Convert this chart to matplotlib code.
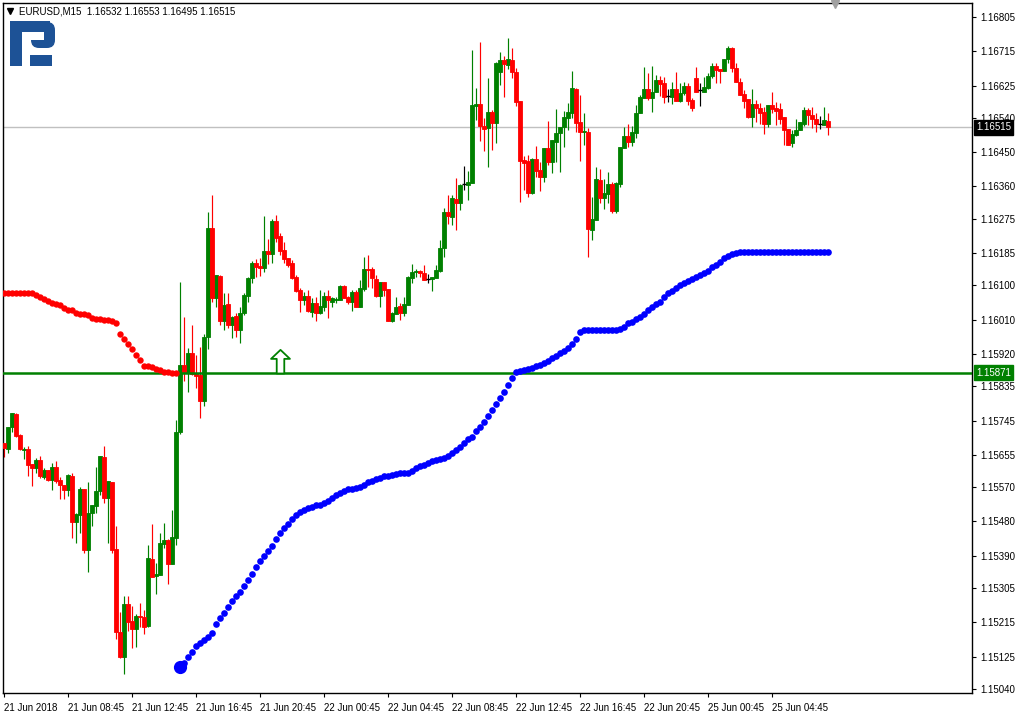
import matplotlib
matplotlib.use("Agg")
import matplotlib.pyplot as plt
import matplotlib.transforms as mtransforms
from matplotlib.path import Path
from matplotlib.patches import Rectangle, FancyBboxPatch

# ---------------- data ----------------
header_text = "EURUSD,M15  1.16532 1.16553 1.16495 1.16515"

opens = [1.15686, 1.15670, 1.15728, 1.15762, 1.15707, 1.15668, 1.15670, 1.15631, 1.15620, 1.15641,
         1.15597, 1.15615, 1.15589, 1.15623, 1.15589, 1.15576, 1.15563, 1.15599, 1.15479, 1.15497,
         1.15565, 1.15405, 1.15502, 1.15521, 1.15560, 1.15649, 1.15542, 1.15584, 1.15408, 1.15190,
         1.15124, 1.15263, 1.15219, 1.15198, 1.15232, 1.15229, 1.15205, 1.15381, 1.15337, 1.15339,
         1.15421, 1.15431, 1.15368, 1.15437, 1.15715, 1.15891, 1.15870, 1.15922, 1.15867, 1.15865,
         1.15796, 1.15965, 1.16251, 1.16067, 1.16125, 1.16007, 1.16051, 1.15996, 1.16020, 1.15983,
         1.16028, 1.16072, 1.16119, 1.16159, 1.16151, 1.16146, 1.16190, 1.16183, 1.16269, 1.16230,
         1.16193, 1.16172, 1.16159, 1.16122, 1.16088, 1.16062, 1.16072, 1.16030, 1.16054, 1.16028,
         1.16043, 1.16072, 1.16056, 1.16062, 1.16062, 1.16098, 1.16070, 1.16056, 1.16083, 1.16043,
         1.16091, 1.16143, 1.16143, 1.16117, 1.16072, 1.16109, 1.16091, 1.16007, 1.16025, 1.16046,
         1.16028, 1.16049, 1.16119, 1.16135, 1.16138, 1.16133, 1.16117, 1.16117, 1.16119, 1.16138,
         1.16198, 1.16293, 1.16280, 1.16327, 1.16316, 1.16366, 1.16364, 1.16369, 1.16571, 1.16576,
         1.16519, 1.16513, 1.16555, 1.16527, 1.16661, 1.16692, 1.16679, 1.16692, 1.16661, 1.16584,
         1.16429, 1.16427, 1.16343, 1.16432, 1.16403, 1.16385, 1.16461, 1.16424, 1.16477, 1.16500,
         1.16516, 1.16540, 1.16553, 1.16616, 1.16529, 1.16503, 1.16503, 1.16246, 1.16272, 1.16377,
         1.16330, 1.16340, 1.16366, 1.16295, 1.16366, 1.16461, 1.16492, 1.16477, 1.16500, 1.16553,
         1.16592, 1.16616, 1.16592, 1.16608, 1.16640, 1.16632, 1.16598, 1.16595, 1.16616, 1.16584,
         1.16605, 1.16624, 1.16587, 1.16645, 1.16613, 1.16608, 1.16619, 1.16650, 1.16676, 1.16668,
         1.16663, 1.16695, 1.16724, 1.16671, 1.16634, 1.16603, 1.16590, 1.16542, 1.16576, 1.16566,
         1.16555, 1.16524, 1.16574, 1.16566, 1.16563, 1.16542, 1.16511, 1.16474, 1.16495, 1.16508,
         1.16524, 1.16561, 1.16548, 1.16537, 1.16524, 1.16521, 1.16532]

highs = [1.15686, 1.15728, 1.15765, 1.15765, 1.15710, 1.15676, 1.15678, 1.15631, 1.15647, 1.15652,
         1.15620, 1.15615, 1.15634, 1.15639, 1.15597, 1.15576, 1.15605, 1.15607, 1.15502, 1.15571,
         1.15565, 1.15584, 1.15523, 1.15623, 1.15652, 1.15678, 1.15586, 1.15584, 1.15468, 1.15242,
         1.15284, 1.15284, 1.15258, 1.15237, 1.15266, 1.15247, 1.15418, 1.15473, 1.15371, 1.15450,
         1.15476, 1.15434, 1.15510, 1.15747, 1.16109, 1.16017, 1.15936, 1.15996, 1.15917, 1.15938,
         1.15972, 1.16293, 1.16337, 1.16127, 1.16127, 1.16080, 1.16080, 1.16020, 1.16028, 1.16043,
         1.16080, 1.16122, 1.16164, 1.16169, 1.16172, 1.16282, 1.16222, 1.16274, 1.16285, 1.16238,
         1.16214, 1.16172, 1.16167, 1.16127, 1.16093, 1.16083, 1.16088, 1.16067, 1.16070, 1.16088,
         1.16083, 1.16088, 1.16070, 1.16070, 1.16101, 1.16101, 1.16072, 1.16088, 1.16088, 1.16114,
         1.16175, 1.16180, 1.16148, 1.16127, 1.16109, 1.16109, 1.16091, 1.16030, 1.16070, 1.16054,
         1.16070, 1.16125, 1.16156, 1.16143, 1.16140, 1.16154, 1.16130, 1.16122, 1.16154, 1.16219,
         1.16303, 1.16337, 1.16337, 1.16382, 1.16366, 1.16414, 1.16401, 1.16718, 1.16619, 1.16739,
         1.16540, 1.16645, 1.16561, 1.16687, 1.16713, 1.16703, 1.16750, 1.16724, 1.16671, 1.16584,
         1.16440, 1.16443, 1.16435, 1.16466, 1.16424, 1.16461, 1.16532, 1.16482, 1.16563, 1.16516,
         1.16558, 1.16579, 1.16663, 1.16619, 1.16600, 1.16553, 1.16513, 1.16332, 1.16411, 1.16406,
         1.16380, 1.16398, 1.16372, 1.16372, 1.16464, 1.16516, 1.16524, 1.16519, 1.16574, 1.16600,
         1.16674, 1.16658, 1.16676, 1.16653, 1.16650, 1.16647, 1.16616, 1.16634, 1.16661, 1.16632,
         1.16634, 1.16632, 1.16592, 1.16674, 1.16632, 1.16647, 1.16658, 1.16684, 1.16684, 1.16668,
         1.16695, 1.16729, 1.16726, 1.16684, 1.16645, 1.16613, 1.16590, 1.16616, 1.16587, 1.16579,
         1.16569, 1.16574, 1.16608, 1.16582, 1.16579, 1.16542, 1.16511, 1.16508, 1.16537, 1.16529,
         1.16569, 1.16566, 1.16569, 1.16553, 1.16545, 1.16569, 1.16553]

lows = [1.15649, 1.15660, 1.15715, 1.15702, 1.15668, 1.15644, 1.15599, 1.15573, 1.15607, 1.15594,
        1.15592, 1.15586, 1.15563, 1.15581, 1.15539, 1.15539, 1.15547, 1.15437, 1.15423, 1.15450,
        1.15397, 1.15347, 1.15468, 1.15502, 1.15550, 1.15529, 1.15423, 1.15397, 1.15171, 1.15121,
        1.15079, 1.15192, 1.15148, 1.15150, 1.15203, 1.15184, 1.15203, 1.15334, 1.15290, 1.15339,
        1.15410, 1.15316, 1.15368, 1.15418, 1.15710, 1.15849, 1.15820, 1.15865, 1.15831, 1.15752,
        1.15783, 1.15933, 1.16056, 1.16043, 1.15996, 1.15983, 1.15988, 1.15962, 1.15965, 1.15949,
        1.16022, 1.16056, 1.16106, 1.16122, 1.16125, 1.16135, 1.16156, 1.16159, 1.16214, 1.16180,
        1.16159, 1.16148, 1.16117, 1.16083, 1.16030, 1.16049, 1.16030, 1.16017, 1.16007, 1.16025,
        1.16033, 1.16014, 1.16043, 1.16054, 1.16062, 1.16067, 1.16051, 1.16033, 1.16043, 1.16043,
        1.16085, 1.16096, 1.16093, 1.16070, 1.16043, 1.16072, 1.16007, 1.16004, 1.16025, 1.16009,
        1.16020, 1.16049, 1.16106, 1.16122, 1.16122, 1.16114, 1.16106, 1.16085, 1.16119, 1.16135,
        1.16175, 1.16261, 1.16259, 1.16246, 1.16298, 1.16351, 1.16324, 1.16369, 1.16534, 1.16479,
        1.16453, 1.16411, 1.16456, 1.16474, 1.16626, 1.16595, 1.16668, 1.16645, 1.16571, 1.16319,
        1.16351, 1.16332, 1.16340, 1.16385, 1.16348, 1.16372, 1.16416, 1.16395, 1.16424, 1.16398,
        1.16464, 1.16508, 1.16540, 1.16503, 1.16427, 1.16469, 1.16175, 1.16219, 1.16272, 1.16316,
        1.16301, 1.16316, 1.16290, 1.16290, 1.16358, 1.16461, 1.16464, 1.16466, 1.16487, 1.16553,
        1.16592, 1.16587, 1.16555, 1.16608, 1.16598, 1.16579, 1.16582, 1.16576, 1.16584, 1.16582,
        1.16600, 1.16574, 1.16558, 1.16608, 1.16571, 1.16608, 1.16616, 1.16645, 1.16632, 1.16632,
        1.16663, 1.16684, 1.16661, 1.16634, 1.16600, 1.16566, 1.16540, 1.16516, 1.16529, 1.16524,
        1.16498, 1.16516, 1.16553, 1.16521, 1.16524, 1.16469, 1.16469, 1.16464, 1.16492, 1.16508,
        1.16519, 1.16521, 1.16513, 1.16503, 1.16511, 1.16521, 1.16495]

closes = [1.15673, 1.15728, 1.15765, 1.15704, 1.15670, 1.15670, 1.15628, 1.15620, 1.15641, 1.15599,
          1.15615, 1.15589, 1.15623, 1.15586, 1.15576, 1.15563, 1.15602, 1.15479, 1.15500, 1.15565,
          1.15405, 1.15502, 1.15523, 1.15560, 1.15652, 1.15542, 1.15586, 1.15405, 1.15190, 1.15124,
          1.15263, 1.15216, 1.15198, 1.15232, 1.15229, 1.15203, 1.15384, 1.15334, 1.15342, 1.15423,
          1.15431, 1.15368, 1.15439, 1.15715, 1.15891, 1.15873, 1.15922, 1.15867, 1.15862, 1.15796,
          1.15965, 1.16251, 1.16067, 1.16127, 1.16007, 1.16049, 1.15996, 1.16017, 1.15983, 1.16028,
          1.16075, 1.16119, 1.16159, 1.16148, 1.16146, 1.16190, 1.16183, 1.16269, 1.16225, 1.16190,
          1.16169, 1.16154, 1.16119, 1.16085, 1.16062, 1.16072, 1.16033, 1.16054, 1.16028, 1.16046,
          1.16072, 1.16062, 1.16067, 1.16064, 1.16098, 1.16067, 1.16056, 1.16083, 1.16043, 1.16093,
          1.16143, 1.16140, 1.16119, 1.16072, 1.16109, 1.16088, 1.16007, 1.16028, 1.16043, 1.16028,
          1.16051, 1.16122, 1.16135, 1.16138, 1.16133, 1.16114, 1.16117, 1.16122, 1.16140, 1.16198,
          1.16293, 1.16282, 1.16330, 1.16316, 1.16364, 1.16366, 1.16372, 1.16574, 1.16576, 1.16519,
          1.16511, 1.16555, 1.16527, 1.16684, 1.16692, 1.16682, 1.16695, 1.16661, 1.16582, 1.16427,
          1.16422, 1.16343, 1.16432, 1.16401, 1.16385, 1.16461, 1.16424, 1.16482, 1.16500, 1.16516,
          1.16542, 1.16555, 1.16619, 1.16527, 1.16503, 1.16506, 1.16248, 1.16274, 1.16380, 1.16330,
          1.16343, 1.16366, 1.16295, 1.16369, 1.16464, 1.16492, 1.16477, 1.16503, 1.16553, 1.16595,
          1.16616, 1.16592, 1.16608, 1.16640, 1.16629, 1.16595, 1.16598, 1.16616, 1.16584, 1.16605,
          1.16624, 1.16584, 1.16566, 1.16608, 1.16613, 1.16621, 1.16650, 1.16676, 1.16666, 1.16663,
          1.16695, 1.16724, 1.16671, 1.16634, 1.16600, 1.16584, 1.16542, 1.16576, 1.16566, 1.16553,
          1.16524, 1.16574, 1.16563, 1.16558, 1.16537, 1.16508, 1.16469, 1.16498, 1.16508, 1.16529,
          1.16561, 1.16548, 1.16537, 1.16524, 1.16524, 1.16534, 1.16515]

# trailing-stop dots: red (above price) on the first bars, blue (below price) afterwards
stop_red = [1.16081, 1.16081, 1.16081, 1.16081, 1.16081, 1.16081, 1.16081, 1.16081, 1.16075, 1.16070,
            1.16064, 1.16059, 1.16054, 1.16051, 1.16049, 1.16040, 1.16035, 1.16035, 1.16028, 1.16025,
            1.16024, 1.16023, 1.16014, 1.16011, 1.16011, 1.16010, 1.16009, 1.16007, 1.16002, 1.15973,
            1.15960, 1.15947, 1.15934, 1.15918, 1.15904, 1.15889, 1.15888, 1.15886, 1.15880, 1.15877,
            1.15873, 1.15872, 1.15871, 1.15871]
stop_blue = [1.15099, 1.15109, 1.15125, 1.15138, 1.15153, 1.15160, 1.15169, 1.15176, 1.15188, 1.15211,
             1.15227, 1.15240, 1.15256, 1.15272, 1.15285, 1.15296, 1.15311, 1.15326, 1.15342, 1.15360,
             1.15376, 1.15390, 1.15403, 1.15416, 1.15435, 1.15450, 1.15463, 1.15473, 1.15487, 1.15496,
             1.15504, 1.15509, 1.15515, 1.15519, 1.15522, 1.15524, 1.15528, 1.15535, 1.15541, 1.15549,
             1.15554, 1.15560, 1.15564, 1.15564, 1.15568, 1.15571, 1.15577, 1.15583, 1.15587, 1.15591,
             1.15595, 1.15599, 1.15600, 1.15601, 1.15604, 1.15606, 1.15606, 1.15607, 1.15612, 1.15620,
             1.15625, 1.15629, 1.15634, 1.15638, 1.15641, 1.15645, 1.15647, 1.15653, 1.15661, 1.15668,
             1.15676, 1.15687, 1.15697, 1.15701, 1.15717, 1.15728, 1.15741, 1.15757, 1.15773, 1.15789,
             1.15804, 1.15820, 1.15838, 1.15856, 1.15873, 1.15876, 1.15878, 1.15880, 1.15884, 1.15888,
             1.15891, 1.15897, 1.15902, 1.15909, 1.15915, 1.15922, 1.15928, 1.15935, 1.15945, 1.15960,
             1.15978, 1.15983, 1.15983, 1.15983, 1.15983, 1.15983, 1.15983, 1.15983, 1.15983, 1.15983,
             1.15985, 1.15992, 1.16000, 1.16005, 1.16011, 1.16018, 1.16026, 1.16035, 1.16042, 1.16050,
             1.16057, 1.16069, 1.16080, 1.16086, 1.16092, 1.16101, 1.16107, 1.16112, 1.16116, 1.16121,
             1.16127, 1.16132, 1.16138, 1.16148, 1.16154, 1.16162, 1.16171, 1.16178, 1.16183, 1.16185,
             1.16188, 1.16189, 1.16189, 1.16189, 1.16189, 1.16189, 1.16189, 1.16189, 1.16189, 1.16189,
             1.16189, 1.16189, 1.16189, 1.16189, 1.16189, 1.16189, 1.16189, 1.16189, 1.16189, 1.16189,
             1.16189, 1.16189, 1.16189]

level_price = 1.15871
bid_price = 1.16515
arrow_bar = 69

price_ticks = [1.16805, 1.16715, 1.16625, 1.16540, 1.16450, 1.16360, 1.16275, 1.16185, 1.16100,
               1.16010, 1.15920, 1.15835, 1.15745, 1.15655, 1.15570, 1.15480, 1.15390, 1.15305,
               1.15215, 1.15125, 1.15040]
time_tick_bars = [0, 16, 32, 48, 64, 80, 96, 112, 128, 144, 160, 176, 192]
time_tick_labels = ["21 Jun 2018", "21 Jun 08:45", "21 Jun 12:45", "21 Jun 16:45", "21 Jun 20:45",
                    "22 Jun 00:45", "22 Jun 04:45", "22 Jun 08:45", "22 Jun 12:45", "22 Jun 16:45",
                    "22 Jun 20:45", "25 Jun 00:45", "25 Jun 04:45"]

# ---------------- figure ----------------
W, H = 1016, 714
FONT = "Liberation Sans"
fig = plt.figure(figsize=(W / 100, H / 100), dpi=100)
fig.patch.set_facecolor("white")

ax_l, ax_r, ax_t, ax_b = 3, 972, 3, 693
ax = fig.add_axes([ax_l / W, 1 - ax_b / H, (ax_r - ax_l) / W, (ax_b - ax_t) / H])
ax.set_facecolor("white")

GREEN = "#008000"
RED = "#ff0000"

n = len(opens)
xs = list(range(n))
up_x, up_b, up_h = [], [], []
dn_x, dn_b, dn_h = [], [], []
dj_x, dj_y = [], []
wick_cols = []
for i in range(n):
    o, c = opens[i], closes[i]
    if c > o:
        up_x.append(i); up_b.append(o); up_h.append(c - o); wick_cols.append(GREEN)
    elif c < o:
        dn_x.append(i); dn_b.append(c); dn_h.append(o - c); wick_cols.append(RED)
    else:
        dj_x.append(i); dj_y.append(o); wick_cols.append("black")

ax.vlines(xs, lows, highs, colors=wick_cols, linewidth=0.85, zorder=2)
ax.bar(up_x, up_h, bottom=up_b, width=0.78, color=GREEN, linewidth=0.6, edgecolor=GREEN, zorder=3)
ax.bar(dn_x, dn_h, bottom=dn_b, width=0.78, color=RED, linewidth=0.6, edgecolor=RED, zorder=3)
ax.hlines(dj_y, [x - 0.4 for x in dj_x], [x + 0.4 for x in dj_x], colors="black", linewidth=1.0, zorder=3)

# horizontal lines
ax.axhline(bid_price, color="#c0c0c0", linewidth=1.0, zorder=1)
ax.axhline(level_price, color=GREEN, linewidth=1.8, zorder=4)

# trailing stop dots
red_x = list(range(len(stop_red)))
blue_x = list(range(len(stop_red), len(stop_red) + len(stop_blue)))
ax.plot(red_x, stop_red, "o", color=RED, markersize=4.6, markeredgewidth=0, zorder=5)
ax.plot(blue_x, stop_blue, "o", color="#0000ff", markersize=4.8, markeredgewidth=0, zorder=5)
ax.plot(blue_x[:1], stop_blue[:1], "o", color="#0000ff", markersize=9.5, markeredgewidth=0, zorder=5)

# hollow up arrow sitting on the level line
arrow_path = Path([(0, 1), (-0.4, 0.62), (-0.16, 0.62), (-0.16, 0), (0.16, 0), (0.16, 0.62), (0.4, 0.62), (0, 1)],
                  [Path.MOVETO] + [Path.LINETO] * 6 + [Path.CLOSEPOLY])
ax.plot([arrow_bar], [level_price], marker=arrow_path, markersize=34, markerfacecolor="white",
        markeredgecolor=GREEN, markeredgewidth=1.3, linestyle="none", zorder=6)

# axes limits and ticks
ax.set_xlim(-0.25, 242)
ax.set_ylim(1.150294, 1.168418)
ax.yaxis.tick_right()
ax.set_yticks(price_ticks)
ax.set_yticklabels([f"{p:.5f}" for p in price_ticks], fontsize=7, family=FONT)
ax.tick_params(axis="y", direction="out", length=3, width=0.8, pad=3, colors="black")
ax.set_xticks(time_tick_bars)
ax.set_xticklabels(time_tick_labels, fontsize=7, family=FONT)
ax.tick_params(axis="x", direction="out", length=3, width=0.8, pad=4)
for lab in ax.get_xticklabels():
    lab.set_horizontalalignment("left")
for s in ax.spines.values():
    s.set_color("black")
    s.set_linewidth(1.0)

# price boxes on the scale
box_tr = mtransforms.blended_transform_factory(ax.transAxes, ax.transData)
ax.text(1.0 + 4 / (ax_r - ax_l), bid_price, f"{bid_price:.5f}", transform=box_tr, ha="left", va="center",
        fontsize=7, family=FONT, color="white", clip_on=False, zorder=10,
        bbox=dict(boxstyle="square,pad=0.22", facecolor="black", edgecolor="black"))
ax.text(1.0 + 4 / (ax_r - ax_l), level_price, f"{level_price:.5f}", transform=box_tr, ha="left", va="center",
        fontsize=7, family=FONT, color="white", clip_on=False, zorder=10,
        bbox=dict(boxstyle="square,pad=0.22", facecolor=GREEN, edgecolor=GREEN))

# header
px = mtransforms.Affine2D().scale(1 / W, -1 / H).translate(0, 1) + fig.transFigure
fig.text(19, 11, header_text, transform=px, fontsize=7, family=FONT, va="center", ha="left")
fig.lines.append(plt.Line2D([10], [11], marker="v", markersize=4.5, color="black", transform=px))
fig.lines.append(plt.Line2D([835], [4], marker="v", markersize=6, color="#a0a0a0", transform=px))

# logo
LOGO = "#1d5296"
for (x0, y0, w, h) in [(10, 21, 12, 45), (10, 21, 40, 11), (30, 55, 22, 11)]:
    fig.patches.append(Rectangle((x0, y0), w, h, transform=px, facecolor=LOGO, edgecolor="none"))
fig.patches.append(FancyBboxPatch((31, 22), 24, 26, boxstyle="round,pad=0,rounding_size=8",
                                  transform=px, facecolor=LOGO, edgecolor="none"))
fig.patches.append(Rectangle((22, 32), 22, 8, transform=px, facecolor="white", edgecolor="none"))

fig.savefig("out.png", dpi=100, facecolor="white")
